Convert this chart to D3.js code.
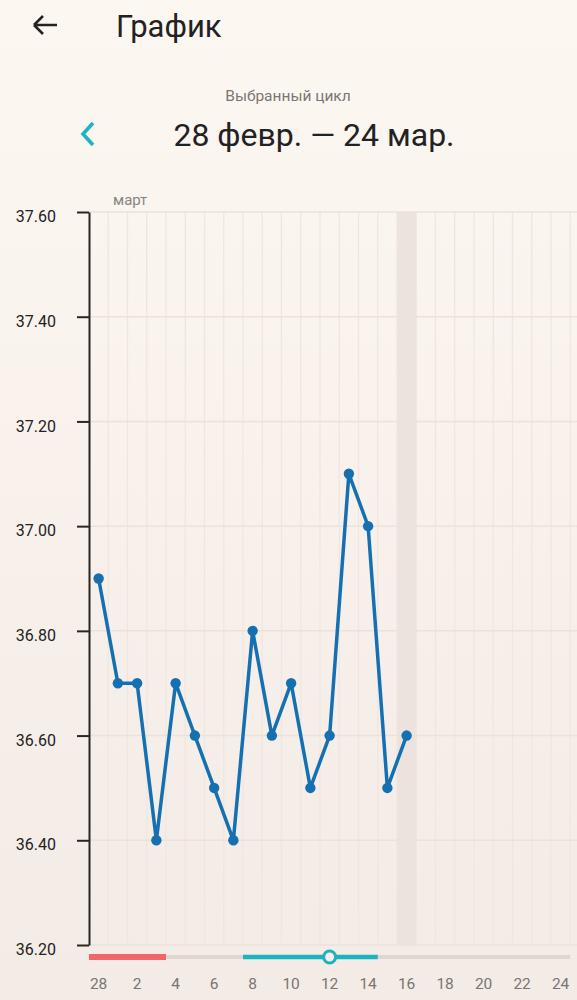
<!DOCTYPE html>
<html>
<head>
<meta charset="utf-8">
<script src="https://cdn.jsdelivr.net/npm/d3@7"></script>
<style>
    html, body {
        margin: 0;
        padding: 0;
        background: #f8f0ea;
    }
    #content {
        width: 577px;
        height: 1000px;
        overflow: hidden;
    }
    svg text {
        font-family: Roboto, "Noto Sans", sans-serif;
    }
</style>
</head>
<body>
<div id="content"></div>
<script>
// Days of the cycle (28 febr. .. 24 march)
var dayLabels = ["28", "1", "2", "3", "4", "5", "6", "7", "8", "9", "10", "11", "12",
    "13", "14", "15", "16", "17", "18", "19", "20", "21", "22", "23", "24"];

// Basal temperature, one value per recorded day
var temperatures = [36.90, 36.70, 36.70, 36.40, 36.70, 36.60, 36.50, 36.40, 36.80,
    36.60, 36.70, 36.50, 36.60, 37.10, 37.00, 36.50, 36.60];

var yTicks = [36.20, 36.40, 36.60, 36.80, 37.00, 37.20, 37.40, 37.60];

// Phases shown on the bottom strip (day indexes)
var periodDays = [0, 3];
var fertileDays = [8, 14];
var ovulationDay = 12;
var todayIndex = 16;

var cycleChart = (function () {

    "use strict";

    var width = 577,
        height = 1000,
        top = 212,
        bottom = 945,
        left = 89,
        right = 570.25;

    function drawHeader(svg) {
        // back arrow
        svg.append("path")
            .attr("d", "M34,25H57M34,25L43,16M34,25L43,34")
            .attr("fill", "none")
            .attr("stroke", "#222")
            .attr("stroke-width", 2.6);

        svg.append("text")
            .attr("x", 116)
            .attr("y", 37)
            .attr("font-size", 31)
            .attr("font-weight", 400)
            .attr("fill", "#222")
            .text("График");

        svg.append("text")
            .attr("x", 288)
            .attr("y", 101)
            .attr("text-anchor", "middle")
            .attr("font-size", 15.5)
            .attr("fill", "#7a7674")
            .text("Выбранный цикл");

        svg.append("path")
            .attr("d", "M93,123L83,134L93,145")
            .attr("fill", "none")
            .attr("stroke", "#1ab5c1")
            .attr("stroke-width", 3.6);

        svg.append("text")
            .attr("x", 314)
            .attr("y", 146)
            .attr("text-anchor", "middle")
            .attr("font-size", 32)
            .attr("font-weight", 400)
            .attr("fill", "#222")
            .text("28 февр. — 24 мар.");
    }

    function render() {

        var svg = d3.select("#content").append("svg")
            .attr("width", width)
            .attr("height", height);

        var grad = svg.append("defs").append("linearGradient")
            .attr("id", "bg")
            .attr("x1", 0).attr("y1", 0)
            .attr("x2", 0).attr("y2", 1);
        grad.append("stop").attr("offset", "0%").attr("stop-color", "#fdf7f2");
        grad.append("stop").attr("offset", "100%").attr("stop-color", "#f3ebe5");

        svg.append("rect")
            .attr("width", width)
            .attr("height", height)
            .attr("fill", "url(#bg)");

        drawHeader(svg);

        var x = d3.scaleBand()
            .domain(d3.range(dayLabels.length))
            .range([left, right]);

        var y = d3.scaleLinear()
            .domain([36.2, 37.6])
            .range([bottom, top]);

        /* grid */

        svg.append("rect")
            .attr("x", x(todayIndex))
            .attr("y", top)
            .attr("width", x.bandwidth())
            .attr("height", bottom - top)
            .attr("fill", "#ece3de");

        svg.append("g")
            .selectAll("line")
            .data(d3.range(1, dayLabels.length + 1))
            .enter()
            .append("line")
            .attr("x1", function (d) { return x(0) + d * x.step(); })
            .attr("x2", function (d) { return x(0) + d * x.step(); })
            .attr("y1", top)
            .attr("y2", bottom)
            .attr("stroke", "#f0e6e0")
            .attr("stroke-width", 1.3);

        svg.append("g")
            .selectAll("line")
            .data(yTicks)
            .enter()
            .append("line")
            .attr("x1", left)
            .attr("x2", width)
            .attr("y1", function (d) { return y(d); })
            .attr("y2", function (d) { return y(d); })
            .attr("stroke", "#ebe2dc")
            .attr("stroke-width", 1.5);

        /* y axis */

        var yAxis = svg.append("g")
            .attr("transform", "translate(" + left + ",0)")
            .call(d3.axisLeft(y)
                .tickValues(yTicks)
                .tickFormat(d3.format(".2f"))
                .tickSize(12)
                .tickSizeOuter(0)
                .tickPadding(21));

        yAxis.select(".domain").attr("stroke", "#2a2522").attr("stroke-width", 2);
        yAxis.selectAll(".tick line").attr("stroke", "#2a2522").attr("stroke-width", 2);
        yAxis.selectAll(".tick text")
            .attr("font-size", 16)
            .attr("dy", "0.6em")
            .attr("fill", "#222")
            .style("font-family", "Roboto, sans-serif");

        svg.append("text")
            .attr("x", 113)
            .attr("y", 205)
            .attr("font-size", 15)
            .attr("fill", "#888380")
            .text("март");

        /* temperature line */

        var cx = function (d, i) { return x(i) + x.bandwidth() / 2; };

        svg.append("path")
            .datum(temperatures)
            .attr("fill", "none")
            .attr("stroke", "#1570b2")
            .attr("stroke-width", 3.5)
            .attr("stroke-linejoin", "round")
            .attr("d", d3.line().x(cx).y(function (d) { return y(d); }));

        svg.append("g")
            .selectAll("circle")
            .data(temperatures)
            .enter()
            .append("circle")
            .attr("cx", cx)
            .attr("cy", function (d) { return y(d); })
            .attr("r", 5.2)
            .attr("fill", "#1570b2");

        /* cycle phase strip */

        var stripY = 957;

        svg.append("line")
            .attr("x1", left).attr("x2", right)
            .attr("y1", stripY).attr("y2", stripY)
            .attr("stroke", "#e0d6d0")
            .attr("stroke-width", 4);

        svg.append("line")
            .attr("x1", x(periodDays[0]))
            .attr("x2", x(periodDays[1]) + x.bandwidth())
            .attr("y1", stripY).attr("y2", stripY)
            .attr("stroke", "#f26666")
            .attr("stroke-width", 6);

        svg.append("line")
            .attr("x1", x(fertileDays[0]))
            .attr("x2", x(fertileDays[1]) + x.bandwidth())
            .attr("y1", stripY).attr("y2", stripY)
            .attr("stroke", "#1cb3bf")
            .attr("stroke-width", 4.5);

        svg.append("circle")
            .attr("cx", x(ovulationDay) + x.bandwidth() / 2)
            .attr("cy", stripY)
            .attr("r", 6)
            .attr("fill", "#f6eee8")
            .attr("stroke", "#1cb3bf")
            .attr("stroke-width", 3);

        /* x labels, every second day */

        svg.append("g")
            .selectAll("text")
            .data(d3.range(0, dayLabels.length, 2))
            .enter()
            .append("text")
            .attr("x", function (i) { return x(i) + x.bandwidth() / 2; })
            .attr("y", 989)
            .attr("text-anchor", "middle")
            .attr("font-size", 15.5)
            .attr("fill", "#7b7572")
            .text(function (i) { return dayLabels[i]; });
    }

    return {
        render: render
    };

}());

cycleChart.render();
</script>
</body>
</html>
